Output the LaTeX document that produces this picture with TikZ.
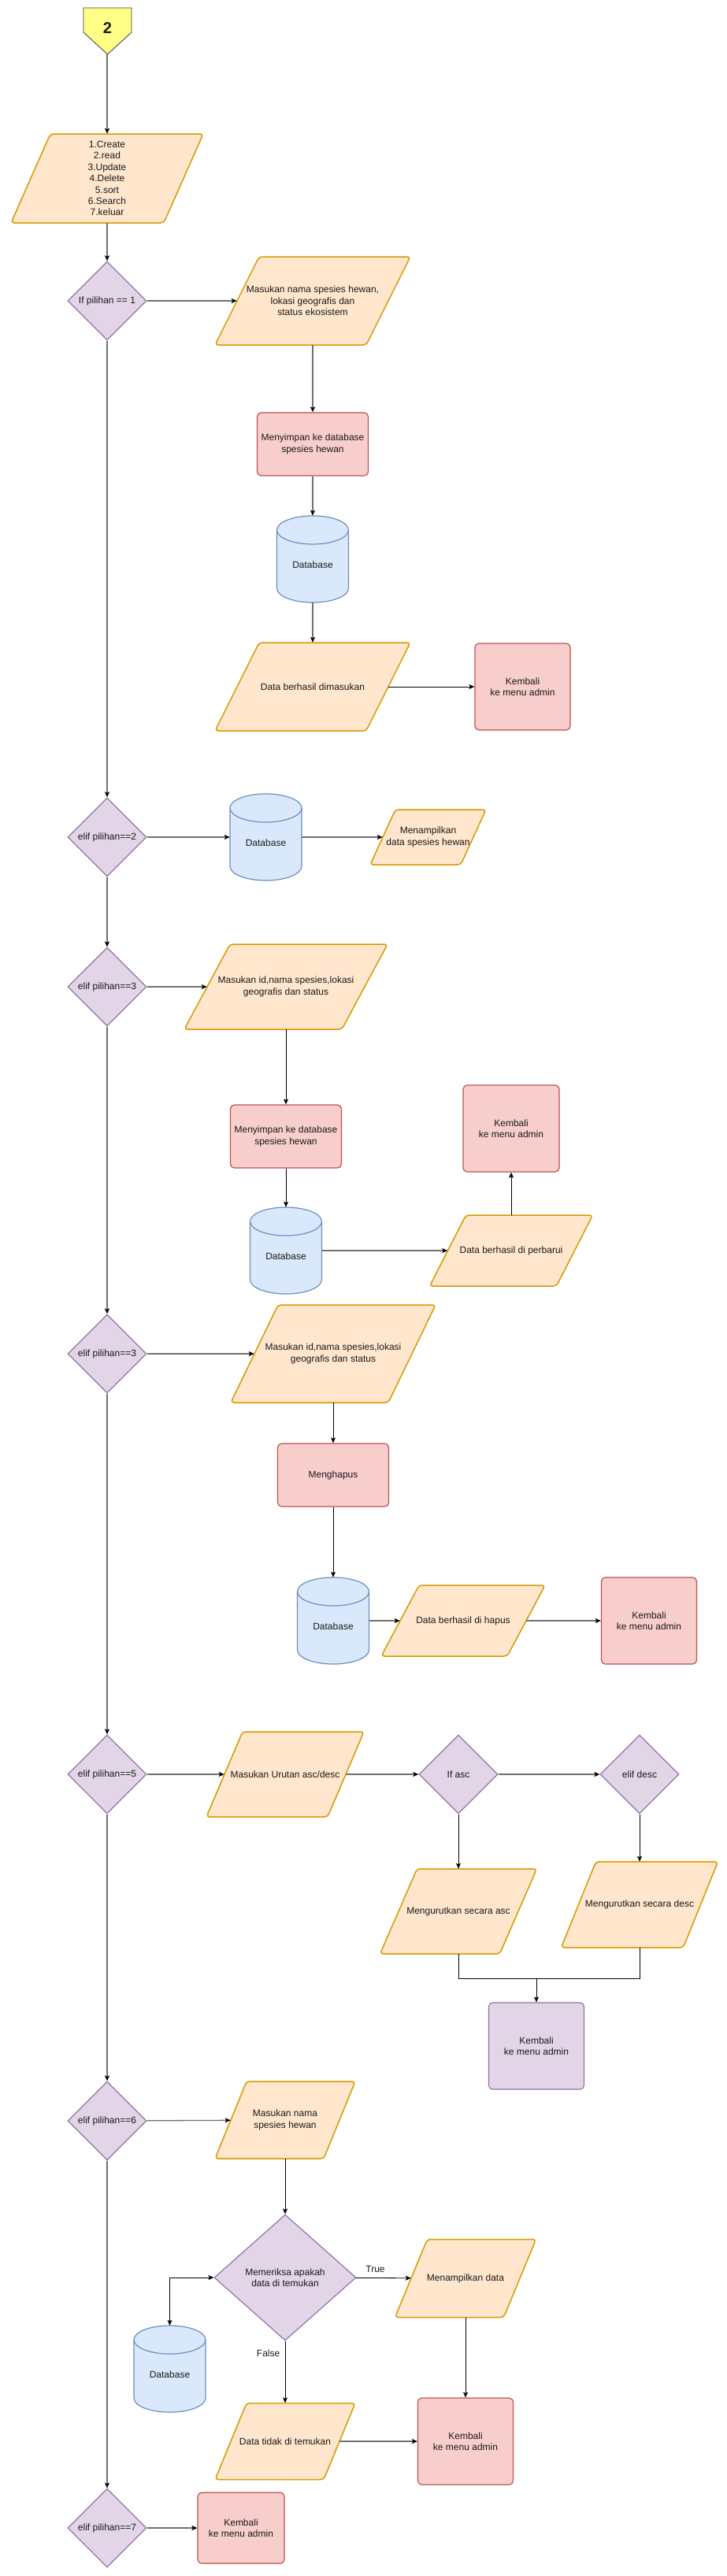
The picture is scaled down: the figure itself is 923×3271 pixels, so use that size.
\documentclass[tikz,border=0pt]{standalone}
\usepackage{fontspec}
\setmainfont{Liberation Sans}
\usetikzlibrary{shapes.geometric,arrows.meta}
\definecolor{ioF}{HTML}{FFE6CC}
\definecolor{ioD}{HTML}{D79B00}
\definecolor{prosF}{HTML}{F8CECC}
\definecolor{prosD}{HTML}{B85450}
\definecolor{kondF}{HTML}{E1D5E7}
\definecolor{kondD}{HTML}{9673A6}
\definecolor{dbF}{HTML}{DAE8FC}
\definecolor{dbD}{HTML}{6C8EBF}
\definecolor{offF}{HTML}{FFFF88}
\definecolor{offD}{HTML}{36393D}
\definecolor{garisC}{HTML}{707070}
\definecolor{txtC}{HTML}{1A1A1A}
\tikzset{
  every node/.style={font=\fontsize{12}{14.4}\selectfont, text=txtC},
  kond/.style={diamond, aspect=1, draw=kondD, fill=kondF, line width=1.2pt, inner sep=0pt, align=center, minimum width=100pt, minimum height=100pt},
  proses/.style={rectangle, rounded corners=5pt, draw=prosD, fill=prosF, line width=1.2pt, align=center, inner sep=1pt},
  prosesu/.style={proses, draw=kondD, fill=kondF},
  iofill/.style={draw=ioD, fill=ioF, line width=1.5pt, rounded corners=4pt},
  teks/.style={align=center, inner sep=0pt},
  dbfill/.style={draw=dbD, fill=dbF, line width=1.2pt},
  offpage/.style={draw=offD, fill=offF, line width=0.8pt},
  garis/.style={draw=garisC, line width=1.3pt, ->},
  garisk/.style={draw=black, line width=0.8pt, ->},
}
\newcommand{\jajar}[7]{%
  \path[iofill] ({#2-#4/2+#6/2},{#3-#5/2}) -- ({#2+#4/2+#6/2},{#3-#5/2}) -- ({#2+#4/2-#6/2},{#3+#5/2}) -- ({#2-#4/2-#6/2},{#3+#5/2}) -- cycle;
  \node[teks, minimum width=#4pt, minimum height=#5pt] (#1) at (#2,#3) {#7};
}
\newcommand{\tabung}[3]{%
  \path[dbfill] ({#2-45.5},{#3-37}) -- ({#2-45.5},{#3+37}) arc[start angle=180, end angle=360, x radius=45.5pt, y radius=18pt] -- ({#2+45.5},{#3-37}) arc[start angle=0, end angle=180, x radius=45.5pt, y radius=18pt] -- cycle;
  \draw[dbfill, fill=none] ({#2-45.5},{#3-37}) arc[start angle=180, end angle=360, x radius=45.5pt, y radius=18pt];
  \node[teks, minimum width=91pt, minimum height=110pt] (#1) at (#2,#3) {};
  \node[teks] (#1t) at (#2,{#3+7}) {Database};
}
\begin{document}
\begin{tikzpicture}[x=1pt,y=-1pt, >={Stealth[length=7pt,width=6pt,inset=1.5pt,color=black]}]
\path[fill=white] (0,0) rectangle (923,3271);
\useasboundingbox (0,0) rectangle (923,3271);

% off-page connector
\path[offpage] (106,10) -- (167,10) -- (167,41) -- (136.5,69) -- (106,41) -- cycle;
\node[teks, minimum width=61pt, minimum height=59pt] (c2) at (136,39.5) {};
\node[teks, font=\bfseries\fontsize{20}{24}\selectfont] (c2t) at (136.5,36) {2};

% menu
\jajar{menu}{136}{226.5}{194}{113}{50}{1.Create\\2.read\\3.Update\\4.Delete\\5.sort\\6.Search\\7.keluar}

% decisions on the trunk
\node[kond] (d1) at (136,382) {If pilihan == 1};
\node[kond] (d2) at (136,1063) {elif pilihan==2};
\node[kond] (d3) at (136,1253) {elif pilihan==3};
\node[kond] (d4) at (136,1719) {elif pilihan==3};
\node[kond] (d5) at (136,2253) {elif pilihan==5};
\node[kond] (d6) at (136,2693) {elif pilihan==6};
\node[kond] (d7) at (136,3210) {elif pilihan==7};

% section 1 (create)
\jajar{p1}{397}{382}{192}{112}{56}{Masukan nama spesies hewan,\\lokasi geografis dan\\status ekosistem}
\node[proses, minimum width=141pt, minimum height=80pt] (simpan1) at (397,564) {Menyimpan ke database\\spesies hewan};
\tabung{db1}{397}{710}
\jajar{data1}{397}{872}{192}{112}{56}{Data berhasil dimasukan}
\node[proses, minimum width=121pt, minimum height=110pt] (kembali1) at (663.5,872) {Kembali\\ke menu admin};

% section 2 (read)
\tabung{db2}{337.5}{1063}
\jajar{tampil2}{543.5}{1063}{115}{70}{32}{Menampilkan\\data spesies hewan}

% section 3 (update)
\jajar{p3}{363}{1253}{200}{108}{58}{Masukan id,nama spesies,lokasi\\geografis dan status}
\node[proses, minimum width=141pt, minimum height=80pt] (simpan3) at (363,1443) {Menyimpan ke database\\spesies hewan};
\node[proses, minimum width=122pt, minimum height=110pt] (kembali3) at (649,1433) {Kembali\\ke menu admin};
\tabung{db3}{363}{1588}
\jajar{perbarui}{649}{1588}{161}{90}{46}{Data berhasil di perbarui}

% section 4 (delete)
\jajar{p4}{423}{1719}{200}{124}{60}{Masukan id,nama spesies,lokasi\\geografis dan status}
\node[proses, minimum width=141pt, minimum height=80pt] (hapusr) at (423,1873) {Menghapus};
\tabung{db4}{423}{2058}
\jajar{hapus}{588}{2058}{160}{90}{48}{Data berhasil di hapus}
\node[proses, minimum width=121pt, minimum height=110pt] (kembali4) at (824,2058) {Kembali\\ke menu admin};

% section 5 (sort)
\jajar{urutan}{362}{2253}{154}{108}{46}{Masukan Urutan asc/desc}
\node[kond] (ifasc) at (582,2253) {If asc};
\node[kond] (elifdesc) at (812,2253) {elif desc};
\jajar{asc}{582}{2427}{152}{108}{47}{Mengurutkan secara asc}
\jajar{desc}{812}{2418.5}{155}{109}{44}{Mengurutkan secara desc}
\coordinate (gabung) at (681,2512);
\node[prosesu, minimum width=121pt, minimum height=110pt] (kembali5) at (681,2598) {Kembali\\ke menu admin};

% section 6 (search)
\jajar{namasp}{362}{2692}{138}{98}{40}{Masukan nama\\spesies hewan}
\node[kond, minimum width=180pt, minimum height=160pt] (periksa) at (362,2892) {Memeriksa apakah\\data di temukan};
\jajar{tampil}{591}{2893}{138}{99}{41}{Menampilkan data}
\tabung{db6}{215.5}{3008}
\jajar{tidak}{362}{3100}{138}{97}{40}{Data tidak di temukan}
\node[proses, minimum width=121pt, minimum height=110pt] (kembali6) at (591,3100) {Kembali\\ke menu admin};

% section 7 (exit)
\node[proses, minimum width=110pt, minimum height=90pt] (kembali7) at (306,3210) {Kembali\\ke menu admin};

% trunk connectors
\draw[garis] (c2) -- (menu);
\draw[garis] (menu) -- (d1);
\draw[garis] (d1) -- (d2);
\draw[garis] (d2) -- (d3);
\draw[garis] (d3) -- (d4);
\draw[garis] (d4) -- (d5);
\draw[garis] (d5) -- (d6);
\draw[garis] (d6) -- (d7);

% section 1
\draw[garis] (d1) -- (p1);
\draw[garis] (p1) -- (simpan1);
\draw[garis] (simpan1) -- (db1);
\draw[garis] (db1) -- (data1);
\draw[garisk] (data1) -- (kembali1);

% section 2
\draw[garis] (d2) -- (db2);
\draw[garis] (db2) -- (tampil2);

% section 3
\draw[garis] (d3) -- (p3);
\draw[garisk] (p3) -- (simpan3);
\draw[garisk] (simpan3) -- (db3);
\draw[garis] (db3) -- (perbarui);
\draw[garisk] (perbarui) -- (kembali3);

% section 4
\draw[garis] (d4) -- (p4);
\draw[garisk] (p4) -- (hapusr);
\draw[garisk] (hapusr) -- (db4);
\draw[garis] (db4) -- (hapus);
\draw[garis] (hapus) -- (kembali4);

% section 5
\draw[garis] (d5) -- (urutan);
\draw[garis] (urutan) -- (ifasc);
\draw[garis] (ifasc) -- (elifdesc);
\draw[garisk] (ifasc) -- (asc);
\draw[garisk] (elifdesc) -- (desc);
\draw[garisk, -] (asc.south) |- (gabung);
\draw[garisk, -] (desc.south) |- (gabung);
\draw[garisk] (gabung) -- (kembali5);

% section 6
\draw[garis] (d6) -- (namasp);
\draw[garisk] (namasp) -- (periksa);
\draw[garisk] (periksa) -- node[pos=0.35, above=3pt] (ltrue) {True} (tampil);
\draw[garisk, <->] (periksa.west) -| (db6.north);
\draw[garisk] (periksa) -- node[pos=0.2, left=3pt] (lfalse) {False} (tidak);
\draw[garisk] (tampil) -- (kembali6);
\draw[garis] (tidak) -- (kembali6);

% section 7
\draw[garis] (d7) -- (kembali7);
\end{tikzpicture}
\end{document}
